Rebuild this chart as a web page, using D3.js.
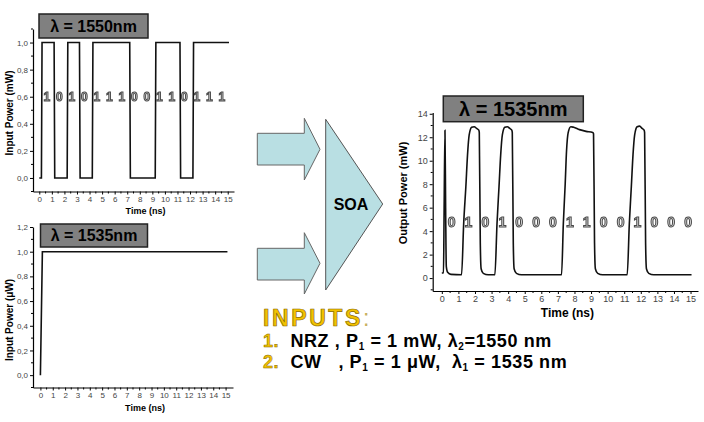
<!DOCTYPE html>
<html>
<head>
<meta charset="utf-8">
<script src="https://cdn.jsdelivr.net/npm/d3@7"></script>
<style>
  body { margin: 0; background: #fff; }
  svg { display: block; font-family: "Liberation Sans", Arial, sans-serif; }
</style>
</head>
<body>
<div id="vis"></div>
<script>
// Declare constants for frame
const FRAME_WIDTH = 704;
const FRAME_HEIGHT = 422;

// data: input 1 (NRZ, 1550 nm)
const IN1_TIME  = [0, 0.17, 0.22, 1.18, 1.23, 2.22, 2.27, 3.20, 3.25, 4.22, 4.27, 7.20, 7.25, 9.23, 9.28, 11.20, 11.25, 12.23, 12.28, 15.10];
const IN1_POWER = [0, 0, 1, 1, 0, 0, 1, 1, 0, 0, 1, 1, 0, 0, 1, 1, 0, 0, 1, 1];
const IN1_BITS  = ["1","0","1","0","1","1","1","0","0","1","1","0","1","1","1"];

// data: input 2 (CW, 1535 nm)
const IN2_TIME  = [0, 0.16, 15.15];
const IN2_POWER = [0, 1, 1];

// data: output (1535 nm)
const OUT_TIME = [0, 0.10, 0.14, 0.19, 0.23, 0.27, 0.35, 0.55, 1.19,
  1.32, 1.45, 1.55, 1.65, 1.80, 1.95, 2.10, 2.23, 2.26, 2.32, 2.37, 2.50, 2.80, 3.20,
  3.33, 3.45, 3.55, 3.65, 3.80, 3.95, 4.10, 4.22, 4.25, 4.31, 4.36, 4.50, 4.80, 7.22,
  7.33, 7.44, 7.52, 7.62, 7.78, 7.95, 8.30, 8.70, 9.10, 9.15, 9.21, 9.26, 9.40, 9.70, 11.18,
  11.31, 11.43, 11.53, 11.63, 11.78, 11.93, 12.08, 12.20, 12.23, 12.29, 12.34, 12.48, 12.78, 15.06];
const OUT_POWER = [0.43, 0.45, 6, 12.6, 6, 1.0, 0.5, 0.32, 0.28,
  4.7, 7.8, 10.5, 12.2, 12.85, 12.9, 12.75, 12.6, 12.4, 3, 0.8, 0.4, 0.28, 0.28,
  4.7, 7.8, 10.5, 12.2, 12.85, 12.9, 12.75, 12.6, 12.4, 3, 0.8, 0.4, 0.28, 0.28,
  4.7, 8, 10.8, 12.4, 12.9, 12.85, 12.65, 12.5, 12.4, 12.3, 3, 0.8, 0.4, 0.28, 0.28,
  4.7, 7.8, 10.5, 12.2, 12.9, 12.95, 12.75, 12.6, 12.4, 3, 0.8, 0.4, 0.28, 0.28];
const OUT_BITS = ["0","1","0","1","0","0","0","1","1","0","0","1","0","0","0"];

// tick values
const X_TICKS = d3.range(0, 16, 1);
const X_MINOR = d3.range(0.5, 15.5, 1);
const Y1_TICKS = [0, 0.2, 0.4, 0.6, 0.8, 1.0];
const Y1_MINOR = [-0.1, 0.1, 0.3, 0.5, 0.7, 0.9, 1.1];
const Y2_TICKS = [0, 0.2, 0.4, 0.6, 0.8, 1.0, 1.2];
const Y2_MINOR = [-0.1, 0.1, 0.3, 0.5, 0.7, 0.9, 1.1];
const Y3_TICKS = [0, 2, 4, 6, 8, 10, 12, 14];
const Y3_MINOR = [-1, 1, 3, 5, 7, 9, 11, 13];

const FRAME = d3.select("#vis")
  .append("svg")
    .attr("width", FRAME_WIDTH)
    .attr("height", FRAME_HEIGHT);

// no-op filter so the outlined digits get grey antialiasing
FRAME.append("defs").append("filter").attr("id", "flat")
  .append("feOffset").attr("dx", 0).attr("dy", 0);

const commaFmt = (d) => d3.format(".1f")(d).replace(".", ",");

// draws one panel: axes, minor ticks, trace, labels
function drawPanel(p) {
  const x = d3.scaleLinear().domain(p.xDomain).range(p.xRange);
  const y = d3.scaleLinear().domain(p.yDomain).range(p.yRange);
  const g = FRAME.append("g");

  // x axis
  const gx = g.append("g")
    .attr("transform", "translate(0," + p.yRange[0] + ")")
    .call(d3.axisBottom(x).tickValues(X_TICKS).tickSize(3).tickSizeOuter(0).tickPadding(2));
  gx.selectAll("text").attr("font-size", p.tickFont).attr("fill", "#444");
  gx.append("g").selectAll("line")
    .data(X_MINOR).enter().append("line")
      .attr("x1", (d) => x(d)).attr("x2", (d) => x(d))
      .attr("y1", 0).attr("y2", 2).attr("stroke", "#000");

  // y axis
  const gy = g.append("g")
    .attr("transform", "translate(" + p.xRange[0] + ",0)")
    .call(d3.axisLeft(y).tickValues(p.yTicks).tickFormat(p.yFormat).tickSize(3).tickSizeOuter(0).tickPadding(2));
  gy.selectAll("text").attr("font-size", p.tickFont).attr("fill", "#444");
  gy.append("g").selectAll("line")
    .data(p.yMinor).enter().append("line")
      .attr("y1", (d) => y(d)).attr("y2", (d) => y(d))
      .attr("x1", 0).attr("x2", -2).attr("stroke", "#000");
  g.selectAll(".domain").attr("stroke-width", 1.2);

  // trace
  const pts = p.time.map((t, i) => [t, p.power[i]]);
  g.append("path")
    .datum(pts)
    .attr("fill", "none")
    .attr("stroke", "#111")
    .attr("stroke-width", 1.6)
    .attr("d", d3.line().x((d) => x(d[0])).y((d) => y(d[1])).curve(p.curve || d3.curveLinear));

  // bit labels
  if (p.bits) {
    g.append("g").attr("filter", "url(#flat)")
      .selectAll("text")
      .data(p.bits).enter().append("text")
        .attr("x", (d, i) => x(p.bitStart + i * p.bitStep))
        .attr("y", y(p.bitY))
        .attr("text-anchor", "middle")
        .attr("dominant-baseline", "central")
        .attr("font-size", p.bitFont)
        .attr("font-weight", "bold")
        .attr("fill", "#d8d8d8")
        .attr("stroke", "#4a4a4a")
        .attr("stroke-width", 1)
        .text((d) => d);
  }

  // axis titles
  g.append("text")
    .attr("x", (p.xRange[0] + p.xRange[1]) / 2 + p.xTitleDx)
    .attr("y", p.xTitleY)
    .attr("text-anchor", "middle")
    .attr("font-size", p.titleFont)
    .attr("font-weight", "bold")
    .text("Time (ns)");
  g.append("text")
    .attr("transform", "translate(" + p.yTitleX + "," + p.yTitleY + ") rotate(-90)")
    .attr("text-anchor", "middle")
    .attr("font-size", p.yTitleFont)
    .attr("font-weight", "bold")
    .text(p.yTitle);

  // wavelength box
  g.append("rect")
    .attr("x", p.box[0]).attr("y", p.box[1])
    .attr("width", p.box[2]).attr("height", p.box[3])
    .attr("fill", "#808080").attr("stroke", "#222").attr("stroke-width", 1.5);
  g.append("text")
    .attr("x", p.box[0] + p.box[2] / 2)
    .attr("y", p.box[1] + p.box[3] / 2)
    .attr("text-anchor", "middle")
    .attr("dominant-baseline", "central")
    .attr("font-size", p.boxFont)
    .attr("font-weight", "bold")
    .attr("fill", "#000")
    .text(p.boxText);
}

drawPanel({
  xDomain: [-0.5, 15.5], xRange: [33, 234],
  yDomain: [-0.1, 1.1], yRange: [191.5, 29],
  yTicks: Y1_TICKS, yMinor: Y1_MINOR, yFormat: commaFmt,
  time: IN1_TIME, power: IN1_POWER,
  bits: IN1_BITS, bitStart: 0.6, bitStep: 0.995, bitY: 0.6, bitFont: 12,
  tickFont: 8, titleFont: 9, yTitleFont: 10,
  xTitleDx: 12, xTitleY: 214, yTitle: "Input Power (mW)", yTitleX: 13, yTitleY: 113,
  box: [39, 14, 109, 24], boxText: "λ = 1550nm", boxFont: 16
});

drawPanel({
  xDomain: [-0.6, 15.6], xRange: [33, 233],
  yDomain: [-0.1, 1.2], yRange: [387.5, 227],
  yTicks: Y2_TICKS, yMinor: Y2_MINOR, yFormat: commaFmt,
  time: IN2_TIME, power: IN2_POWER,
  tickFont: 8, titleFont: 9, yTitleFont: 10,
  xTitleDx: 12, xTitleY: 411, yTitle: "Input Power (\u03bcW)", yTitleX: 13, yTitleY: 320,
  box: [40.5, 224, 107, 23], boxText: "λ = 1535nm", boxFont: 16
});

drawPanel({
  xDomain: [-0.55, 15.45], xRange: [432.7, 698],
  yDomain: [-1.1, 14.1], yRange: [291, 112.6],
  yTicks: Y3_TICKS, yMinor: Y3_MINOR, yFormat: d3.format("d"),
  time: OUT_TIME, power: OUT_POWER, curve: d3.curveMonotoneX,
  bits: OUT_BITS, bitStart: 0.59, bitStep: 1.019, bitY: 4.75, bitFont: 14,
  tickFont: 9, titleFont: 12, yTitleFont: 11,
  xTitleDx: 2, xTitleY: 317, yTitle: "Output Power (mW)", yTitleX: 407, yTitleY: 193,
  box: [443.3, 96, 140, 25.7], boxText: "λ = 1535nm", boxFont: 20
});

// arrows into the SOA
const ARROW_FILL = "#b9dfe3";
[[133.3, 165, 118.3, 180, 149.3], [248.3, 280, 232.7, 294, 263.3]].forEach((a) => {
  const path = d3.path();
  path.moveTo(257.3, a[0]);
  path.lineTo(304.3, a[0]);
  path.lineTo(304.3, a[2]);
  path.lineTo(320, a[4]);
  path.lineTo(304.3, a[3]);
  path.lineTo(304.3, a[1]);
  path.lineTo(257.3, a[1]);
  path.closePath();
  FRAME.append("path").attr("d", path.toString())
    .attr("fill", ARROW_FILL).attr("stroke", "#666").attr("stroke-width", 1);
});

// SOA triangle
FRAME.append("path")
  .attr("d", "M325.7,119.3 L382.7,204 L325.7,290 Z")
  .attr("fill", ARROW_FILL).attr("stroke", "#555").attr("stroke-width", 1);
FRAME.append("text")
  .attr("x", 351).attr("y", 204)
  .attr("text-anchor", "middle").attr("dominant-baseline", "central")
  .attr("font-size", 16).attr("font-weight", "bold")
  .text("SOA");

// inputs legend
const GOLD = "#f2c200";
FRAME.append("text")
  .attr("x", 263).attr("y", 325.5)
  .attr("font-size", 23).attr("font-weight", "bold")
  .attr("letter-spacing", 2.6)
  .attr("fill", GOLD).attr("stroke", "#8a6a00").attr("stroke-width", 0.7)
  .text("INPUTS")
  .append("tspan").attr("fill", "#c8b060").attr("stroke", "none").attr("font-weight", "normal").text(":");

function legendLine(yPos, num, parts) {
  const t = FRAME.append("text")
    .attr("x", 263).attr("y", yPos)
    .attr("font-size", 18).attr("font-weight", "bold")
    .attr("letter-spacing", 0.6)
    .style("white-space", "pre");
  t.append("tspan").attr("fill", GOLD).attr("stroke", "#8a6a00").attr("stroke-width", 0.5).text(num);
  parts.forEach((s) => {
    if (s.sub) {
      t.append("tspan").attr("font-size", 10).attr("dy", 2.5).text(s.sub);
      t.append("tspan").attr("dy", -2.5).text(s.txt);
    } else {
      t.append("tspan").text(s.txt);
    }
  });
}
legendLine(347, "1.", [{txt: "  NRZ , P"}, {sub: "1", txt: " = 1 mW, λ"}, {sub: "2", txt: "=1550 nm"}]);
legendLine(368, "2.", [{txt: "  CW   , P"}, {sub: "1", txt: " = 1 μW,  λ"}, {sub: "1", txt: " = 1535 nm"}]);
</script>
</body>
</html>
